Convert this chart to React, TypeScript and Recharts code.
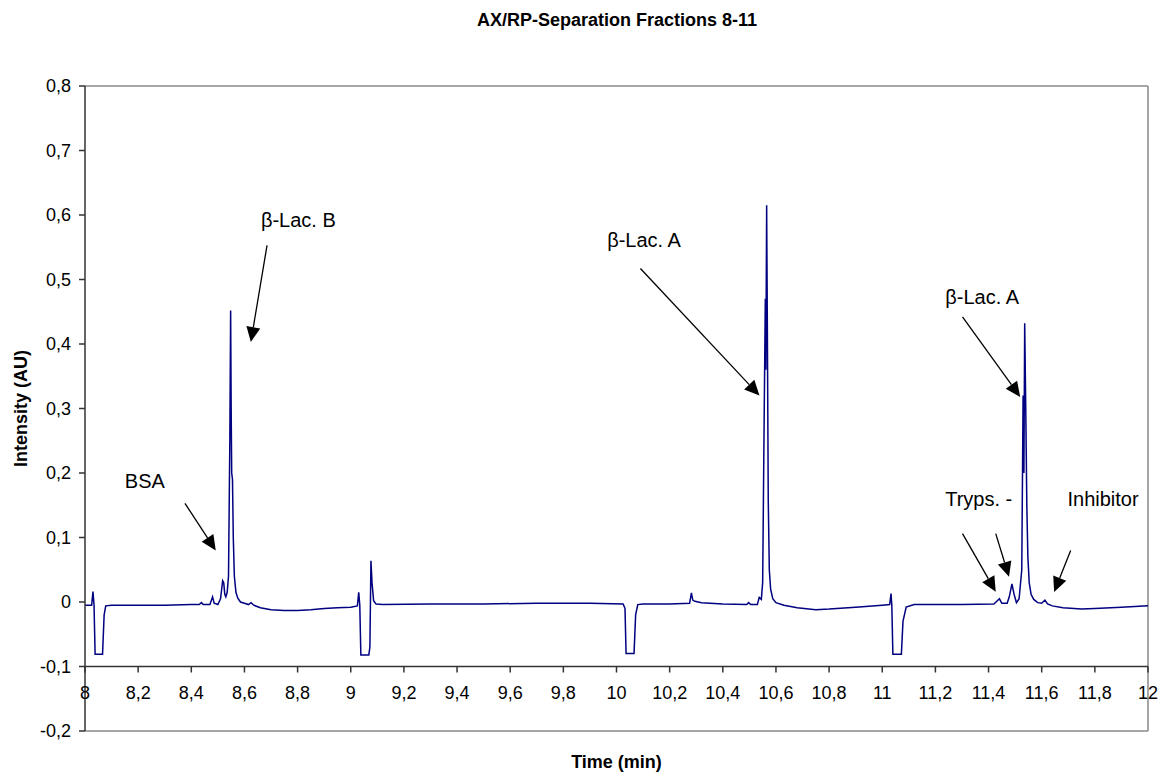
import { Line, LineChart, ReferenceDot, ReferenceLine, XAxis, YAxis } from "recharts";

// chromatogram trace
const TIME = [
    8.000, 8.025, 8.030, 8.034, 8.038, 8.066, 8.072, 8.078, 8.10, 8.20, 8.30, 8.40, 8.43, 8.438, 8.445,
    8.470, 8.480, 8.486, 8.500, 8.510, 8.518, 8.522, 8.526, 8.530, 8.535, 8.540, 8.545, 8.548, 8.550, 8.552,
    8.555, 8.558, 8.562, 8.568, 8.575, 8.585, 8.60, 8.615, 8.625, 8.635, 8.66, 8.70, 8.75, 8.80, 8.85,
    8.90, 8.95, 9.00, 9.025, 9.030, 9.034, 9.038, 9.068, 9.072, 9.076, 9.080, 9.086, 9.095, 9.12, 9.3,
    9.5, 9.7, 9.9, 10.025, 10.032, 10.036, 10.066, 10.072, 10.080, 10.10, 10.20, 10.275, 10.282, 10.287, 10.295,
    10.32, 10.40, 10.49, 10.497, 10.505, 10.530, 10.537, 10.545, 10.550, 10.556, 10.560, 10.562, 10.565, 10.568, 10.571,
    10.575, 10.580, 10.588, 10.60, 10.63, 10.68, 10.75, 10.80, 10.90, 11.00, 11.028, 11.033, 11.036, 11.040, 11.072,
    11.078, 11.090, 11.12, 11.20, 11.30, 11.42, 11.441, 11.450, 11.470, 11.478, 11.488, 11.496, 11.505, 11.515, 11.525,
    11.530, 11.533, 11.536, 11.540, 11.544, 11.548, 11.553, 11.560, 11.570, 11.585, 11.600, 11.612, 11.622, 11.64, 11.68,
    11.75, 11.80, 11.90, 12.00,
];
const INTENSITY = [
    -0.005, -0.005, 0.016, -0.005, -0.081, -0.081, -0.02, -0.006, -0.005, -0.005, -0.005, -0.004, -0.004, -0.001, -0.004,
    -0.004, 0.008, -0.002, -0.004, 0.005, 0.033, 0.030, 0.012, 0.008, 0.015, 0.04, 0.25, 0.452, 0.30, 0.20,
    0.19, 0.10, 0.04, 0.015, 0.006, 0.0, -0.002, -0.004, -0.001, -0.005, -0.009, -0.012, -0.013, -0.013, -0.012,
    -0.010, -0.009, -0.008, -0.006, 0.015, -0.005, -0.082, -0.082, -0.07, 0.064, 0.03, 0.002, -0.003, -0.004, -0.003,
    -0.003, -0.002, -0.002, -0.003, -0.010, -0.080, -0.080, -0.02, -0.004, -0.003, -0.003, -0.002, 0.014, 0.003, 0.001,
    -0.001, -0.003, -0.004, -0.001, -0.004, -0.004, 0.007, 0.004, 0.03, 0.30, 0.47, 0.36, 0.615, 0.40, 0.16,
    0.05, 0.02, 0.005, -0.001, -0.005, -0.009, -0.012, -0.011, -0.008, -0.005, -0.004, 0.013, -0.005, -0.081, -0.081,
    -0.03, -0.008, -0.004, -0.004, -0.004, -0.003, 0.005, -0.002, -0.002, 0.008, 0.028, 0.012, -0.001, 0.005, 0.05,
    0.32, 0.20, 0.432, 0.30, 0.15, 0.07, 0.03, 0.012, 0.004, -0.001, -0.002, 0.003, -0.003, -0.006, -0.009,
    -0.011, -0.010, -0.008, -0.006,
];

const X_TICKS = [8, 8.2, 8.4, 8.6, 8.8, 9, 9.2, 9.4, 9.6, 9.8, 10, 10.2, 10.4, 10.6, 10.8, 11, 11.2, 11.4, 11.6, 11.8, 12];
const Y_TICKS = [-0.2, -0.1, 0, 0.1, 0.2, 0.3, 0.4, 0.5, 0.6, 0.7, 0.8];

// peak labels [text, time, intensity]
const LABELS: [string, number, number][] = [
    ["BSA", 8.15, 0.176],
    ["β-Lac. B", 8.662, 0.582],
    ["β-Lac. A", 9.965, 0.55],
    ["β-Lac. A", 11.237, 0.462],
    ["Tryps. -", 11.237, 0.149],
    ["Inhibitor", 11.697, 0.149],
];
// arrows [t from, v from, t to, v to]
const ARROWS: [number, number, number, number][] = [
    [8.376, 0.153, 8.492, 0.08],
    [8.685, 0.553, 8.624, 0.403],
    [10.09, 0.517, 10.538, 0.32],
    [11.302, 0.442, 11.519, 0.318],
    [11.302, 0.106, 11.427, 0.016],
    [11.427, 0.106, 11.477, 0.039],
    [11.709, 0.08, 11.647, 0.0155],
];

const data = TIME.map((t, i) => ({ t, v: INTENSITY[i] }));

const W = 1170;
const H = 776;
const TOP = 86;
const BOTTOM = 45;
const PLOT_H = H - TOP - BOTTOM;
const AXIS_Y = TOP + PLOT_H * 0.9; // x axis crosses at -0.1
const FONT = "'Liberation Sans', Arial, sans-serif";

const fmt = (v: number) => (v === 0 ? "0" : String(Math.round(v * 10) / 10).replace(".", ","));

function XTick(props: any) {
    const { x, payload } = props;
    return (
        <g>
            <line x1={x} x2={x} y1={AXIS_Y} y2={AXIS_Y + 6} stroke="#333" strokeWidth={1.5} />
            <text x={x} y={AXIS_Y + 32.5} textAnchor="middle" fontSize={18} fill="#000" fontFamily={FONT}>
                {fmt(payload.value)}
            </text>
        </g>
    );
}

function Arrow(props: any) {
    const { x1, y1, x2, y2 } = props;
    const dx = x2 - x1, dy = y2 - y1;
    const len = Math.hypot(dx, dy);
    const ux = dx / len, uy = dy / len;
    const L = 15, Wd = 7;
    const bx = x2 - ux * L, by = y2 - uy * L;
    return (
        <g>
            <line x1={x1} y1={y1} x2={bx} y2={by} stroke="#000" strokeWidth={1.3} />
            <polygon points={`${x2},${y2} ${bx - uy * Wd},${by + ux * Wd} ${bx + uy * Wd},${by - ux * Wd}`} fill="#000" />
        </g>
    );
}

export default function App() {
    return (
        <div style={{ position: "absolute", left: 0, top: 0, width: W, height: H, background: "#fff", fontFamily: FONT }}>
            <div style={{ position: "absolute", left: 617, top: 10, transform: "translateX(-50%)", fontSize: 18, fontWeight: "bold", lineHeight: "20px", whiteSpace: "nowrap" }}>
                AX/RP-Separation Fractions 8-11
            </div>
            <LineChart width={W} height={H} data={data} margin={{ top: TOP, right: 22, bottom: 0, left: 0 }}>
                <XAxis
                    dataKey="t"
                    type="number"
                    domain={[8, 12]}
                    ticks={X_TICKS}
                    interval={0}
                    height={BOTTOM}
                    axisLine={false}
                    tickLine={false}
                    tick={<XTick />}
                    label={{
                        content: (p: any) => (
                            <text x={p.viewBox.x + p.viewBox.width / 2} y={H - 8} textAnchor="middle" fontSize={18} fontWeight="bold" fontFamily={FONT}>
                                Time (min)
                            </text>
                        ),
                    }}
                />
                <YAxis
                    type="number"
                    domain={[-0.2, 0.8]}
                    ticks={Y_TICKS}
                    interval={0}
                    width={85}
                    allowDataOverflow
                    tickFormatter={fmt}
                    tickSize={6}
                    tickMargin={8}
                    tick={{ fontSize: 18, fill: "#000", fontFamily: FONT }}
                    axisLine={{ stroke: "#333", strokeWidth: 1.5 }}
                    tickLine={{ stroke: "#333", strokeWidth: 1.5 }}
                    label={{
                        content: (p: any) => {
                            const cy = p.viewBox.y + p.viewBox.height / 2;
                            return (
                                <text x={26.5} y={cy} transform={`rotate(-90, 26.5, ${cy})`} textAnchor="middle" fontSize={18} fontWeight="bold" fontFamily={FONT}>
                                    Intensity (AU)
                                </text>
                            );
                        },
                    }}
                />
                <ReferenceLine y={0.8} stroke="#888" strokeWidth={1.5} />
                <ReferenceLine y={-0.2} stroke="#888" strokeWidth={1.5} />
                <ReferenceLine x={12} stroke="#888" strokeWidth={1.5} />
                <ReferenceLine y={-0.1} stroke="#333" strokeWidth={1.5} />
                <Line type="linear" dataKey="v" stroke="#000080" strokeWidth={1.5} dot={false} isAnimationActive={false} />
                {ARROWS.map(([t1, v1, t2, v2], i) => (
                    <ReferenceLine key={`a${i}`} segment={[{ x: t1, y: v1 }, { x: t2, y: v2 }]} shape={<Arrow />} />
                ))}
                {LABELS.map(([txt, t, v], i) => (
                    <ReferenceDot
                        key={`l${i}`}
                        x={t}
                        y={v}
                        r={0}
                        shape={(p: any) => (
                            <text x={p.cx} y={p.cy} fontSize={20} fill="#000" fontFamily={FONT}>
                                {txt}
                            </text>
                        )}
                    />
                ))}
            </LineChart>
        </div>
    );
}
